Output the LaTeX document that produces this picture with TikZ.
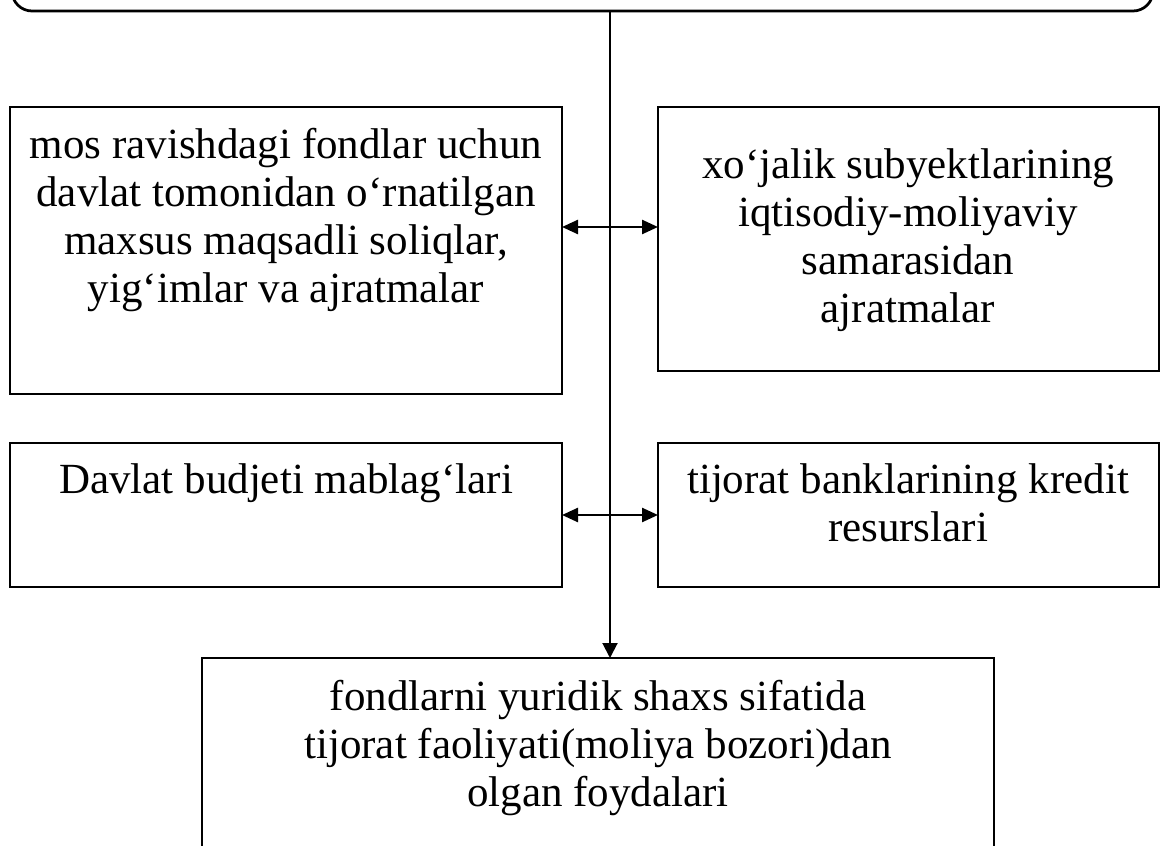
\documentclass[tikz,border=0pt]{standalone}
\usepackage{fontspec}
\setmainfont{Liberation Serif}
\usetikzlibrary{arrows.meta}
\newdimen\pxu \pxu=0.4pt

\begin{document}
\begin{tikzpicture}[x=0.4pt,y=-0.4pt,
  box/.style={draw, line width=1.1pt, inner sep=0pt, outer sep=0pt},
  txt/.style={align=center, inner sep=0pt, anchor=north, font=\fontsize{17.2}{19.2}\selectfont},
  trunk/.style={line width=0.8pt, -{Triangle[length=6pt,width=6pt]}},
  twoway/.style={line width=1pt, {Triangle[length=6.4pt,width=5.6pt]}-{Triangle[length=6.4pt,width=5.6pt]}}]
\useasboundingbox (0,0) rectangle (1160,846);
\clip (0,0) rectangle (1160,846);

\node[box, rounded corners=8pt, anchor=south west, minimum width=1141\pxu, minimum height=120\pxu] (manba) at (12,11) {};
\node[box, anchor=north west, minimum width=552\pxu, minimum height=287\pxu] (soliq) at (10,107) {};
\node[box, anchor=north west, minimum width=501\pxu, minimum height=264\pxu] (samara) at (658,107) {};
\node[box, anchor=north west, minimum width=552\pxu, minimum height=144\pxu] (budjet) at (10,443) {};
\node[box, anchor=north west, minimum width=501\pxu, minimum height=144\pxu] (kredit) at (658,443) {};
\node[box, anchor=north west, minimum width=792\pxu, minimum height=260\pxu] (foyda) at (202,658) {};

% matnlar
\node[txt] (soliqtxt) at (286,128) {mos ravishdagi fondlar uchun\\ davlat tomonidan o‘rnatilgan\\ maxsus maqsadli soliqlar,\\ yig‘imlar va ajratmalar};
\node[txt] (samaratxt) at (908,148) {xo‘jalik subyektlarining\\ iqtisodiy-moliyaviy\\ samarasidan\\ ajratmalar};
\node[txt] (budjettxt) at (286,463) {Davlat budjeti mablag‘lari};
\node[txt] (kredittxt) at (908,463) {tijorat banklarining kredit\\ resurslari};
\node[txt] (foydatxt) at (598,680) {fondlarni yuridik shaxs sifatida\\ tijorat faoliyati(moliya bozori)dan\\ olgan foydalari};

% strelkalar
\coordinate (spine) at (610,0);
\coordinate (row1) at (0,227);
\coordinate (row2) at (0,515);
\draw[trunk] (manba.south -| spine) -- (foyda.north -| spine);
\draw[twoway] (soliq.east |- row1) -- (samara.west |- row1);
\draw[twoway] (budjet.east |- row2) -- (kredit.west |- row2);
\end{tikzpicture}
\end{document}
